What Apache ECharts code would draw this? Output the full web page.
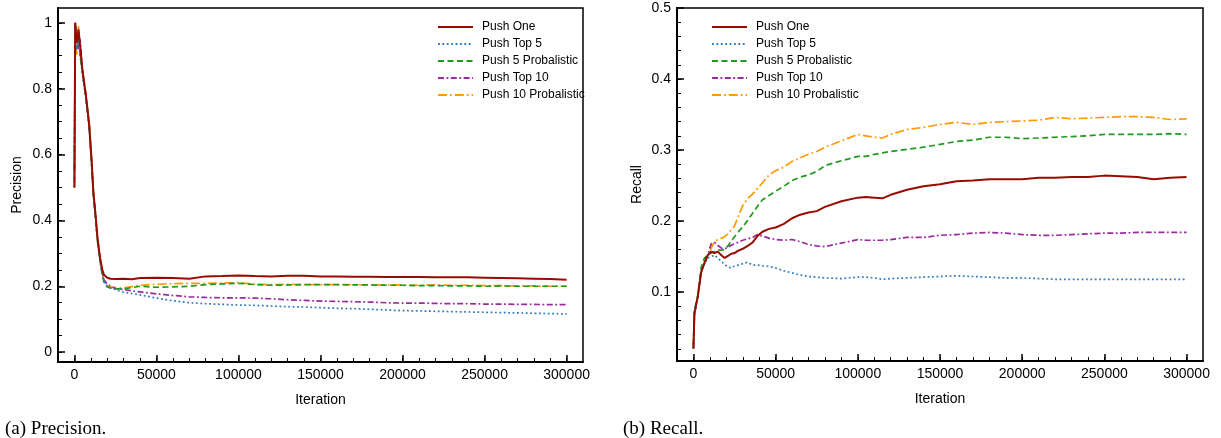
<!DOCTYPE html>
<html>
<head>
<meta charset="utf-8">
<script src="https://cdn.jsdelivr.net/npm/echarts@6/dist/echarts.min.js"></script>
<style>
html,body{margin:0;padding:0;background:#fff;}
#chart{width:1221px;height:438px;}
</style>
</head>
<body>
<div id="chart"></div>
<script>
// ---------- Data ----------
var seriesNames = ['Push One', 'Push Top 5', 'Push 5 Probalistic', 'Push Top 10', 'Push 10 Probalistic'];
var xTickLabels = [0, 50000, 100000, 150000, 200000, 250000, 300000];
var precTickLabels = [0, 0.2, 0.4, 0.6, 0.8, 1];
var recallTickLabels = [0.1, 0.2, 0.3, 0.4, 0.5];

// (a) Precision
var precIter = [0,500,1500,2500,3500,5000,7000,9000,10500,11500,13000,14000,15500,17000,18000,20000,22000,25000,30000,35000,40000,50000,60000,70000,80000,90000,100000,110000,120000,130000,140000,150000,160000,170000,180000,190000,200000,210000,220000,230000,240000,250000,260000,270000,280000,290000,300000];
var precPushOne = [0.5,1.0,0.94,0.98,0.93,0.85,0.78,0.69,0.58,0.49,0.41,0.35,0.29,0.25,0.235,0.226,0.223,0.222,0.223,0.221,0.225,0.226,0.225,0.223,0.230,0.231,0.233,0.231,0.230,0.232,0.232,0.230,0.230,0.229,0.229,0.228,0.228,0.228,0.227,0.227,0.227,0.226,0.225,0.224,0.223,0.222,0.220];
var precPushTop5 = [0.5,0.99,0.92,0.96,0.9,0.84,0.77,0.68,0.57,0.48,0.40,0.34,0.28,0.235,0.215,0.2,0.195,0.19,0.182,0.178,0.174,0.164,0.156,0.150,0.147,0.145,0.143,0.142,0.140,0.138,0.137,0.135,0.133,0.132,0.130,0.128,0.126,0.125,0.124,0.123,0.122,0.121,0.120,0.119,0.118,0.117,0.116];
var precPush5Prob = [0.55,1.0,0.92,0.97,0.9,0.85,0.77,0.69,0.57,0.48,0.40,0.34,0.28,0.235,0.213,0.198,0.195,0.193,0.192,0.196,0.200,0.197,0.198,0.200,0.205,0.207,0.209,0.205,0.203,0.204,0.205,0.205,0.205,0.204,0.204,0.203,0.203,0.202,0.202,0.201,0.201,0.200,0.201,0.200,0.200,0.200,0.200];
var precPushTop10 = [0.52,1.0,0.95,0.92,0.95,0.85,0.78,0.69,0.58,0.49,0.41,0.35,0.29,0.24,0.22,0.207,0.2,0.193,0.19,0.186,0.183,0.177,0.172,0.168,0.166,0.165,0.165,0.164,0.162,0.159,0.157,0.155,0.154,0.153,0.152,0.150,0.149,0.149,0.148,0.147,0.147,0.146,0.146,0.145,0.145,0.144,0.144];
var precPush10Prob = [0.5,0.97,0.9,0.99,0.91,0.86,0.78,0.70,0.58,0.49,0.41,0.35,0.29,0.24,0.215,0.2,0.198,0.196,0.195,0.199,0.203,0.206,0.208,0.209,0.209,0.210,0.211,0.206,0.205,0.206,0.205,0.205,0.205,0.205,0.204,0.204,0.204,0.203,0.204,0.203,0.203,0.202,0.202,0.201,0.201,0.200,0.200];

// (b) Recall
var recIter = [0,600,2600,4700,6700,8700,10800,12800,14800,17000,19000,21000,23000,25000,27000,30000,33000,36000,39000,42000,46000,50000,55000,60000,65000,70000,75000,80000,90000,100000,105000,110000,115000,120000,130000,140000,150000,160000,170000,180000,190000,200000,210000,220000,230000,240000,250000,260000,270000,280000,290000,300000];
var recPushOne = [0.021,0.07,0.093,0.128,0.141,0.152,0.157,0.155,0.157,0.152,0.148,0.151,0.154,0.155,0.158,0.161,0.165,0.170,0.179,0.185,0.189,0.191,0.196,0.204,0.209,0.212,0.214,0.220,0.228,0.233,0.234,0.233,0.232,0.237,0.244,0.249,0.252,0.256,0.257,0.259,0.259,0.259,0.261,0.261,0.262,0.262,0.264,0.263,0.262,0.259,0.261,0.262];
var recPushTop5 = [0.021,0.072,0.095,0.13,0.14,0.148,0.150,0.152,0.148,0.143,0.139,0.135,0.134,0.137,0.138,0.140,0.142,0.138,0.138,0.137,0.136,0.134,0.130,0.127,0.124,0.122,0.121,0.120,0.119,0.121,0.121,0.120,0.118,0.119,0.120,0.121,0.122,0.123,0.122,0.121,0.120,0.120,0.119,0.118,0.118,0.118,0.118,0.118,0.118,0.118,0.118,0.118];
var recPush5Prob = [0.025,0.075,0.095,0.135,0.148,0.152,0.155,0.157,0.159,0.159,0.160,0.165,0.172,0.178,0.184,0.192,0.201,0.211,0.221,0.230,0.236,0.242,0.249,0.257,0.262,0.265,0.270,0.278,0.285,0.291,0.291,0.294,0.296,0.298,0.301,0.304,0.308,0.312,0.314,0.318,0.318,0.316,0.317,0.318,0.319,0.320,0.322,0.322,0.322,0.322,0.323,0.322];
var recPushTop10 = [0.02,0.068,0.093,0.128,0.14,0.152,0.168,0.170,0.166,0.162,0.161,0.163,0.166,0.168,0.170,0.173,0.175,0.177,0.181,0.179,0.176,0.174,0.173,0.174,0.171,0.167,0.165,0.164,0.169,0.174,0.173,0.173,0.173,0.174,0.177,0.177,0.180,0.181,0.183,0.184,0.183,0.181,0.180,0.180,0.181,0.182,0.183,0.183,0.184,0.184,0.184,0.184];
var recPush10Prob = [0.02,0.07,0.093,0.13,0.142,0.15,0.162,0.171,0.174,0.176,0.178,0.182,0.188,0.193,0.205,0.222,0.232,0.238,0.246,0.254,0.265,0.271,0.276,0.284,0.289,0.294,0.298,0.304,0.313,0.322,0.320,0.318,0.317,0.322,0.329,0.332,0.336,0.339,0.336,0.339,0.340,0.341,0.342,0.346,0.344,0.345,0.346,0.347,0.347,0.346,0.343,0.344];

// ---------- Styles ----------
var styles = [
  {color: '#960c00', width: 2, type: 'solid'},
  {color: '#2f7bbf', width: 1.7, type: [1.8, 2.6]},
  {color: '#1f9a1f', width: 1.7, type: [6, 3.5]},
  {color: '#9a2a9e', width: 1.7, type: [6, 2.5, 1.8, 2.5]},
  {color: '#ff9a00', width: 1.7, type: [9, 3, 1.8, 3]}
];
var FONT = 'Liberation Sans';

function zip(xs, ys) { return xs.map(function (x, i) { return [x, ys[i]]; }); }
function range(a, b, s) { var r = []; for (var v = a; v <= b + 1e-9; v += s) r.push(Math.round(v * 1000) / 1000); return r; }
function plain(v) { return String(v); }

var xMinor = range(0, 300000, 10000);
var precMinor = range(0, 1, 0.05);
var recMinor = range(0.02, 0.48, 0.02);

function mainX(grid) {
  return {
    type: 'value', gridIndex: grid, min: -10000, max: 310000, position: 'bottom',
    name: 'Iteration', nameLocation: 'middle', nameGap: 31,
    nameTextStyle: {fontFamily: FONT, fontSize: 14, color: '#000'},
    axisLine: {show: true, onZero: false, lineStyle: {color: '#000', width: 2}},
    axisTick: {show: true, inside: true, length: 7, customValues: xTickLabels, lineStyle: {color: '#000', width: 1.5}},
    axisLabel: {customValues: xTickLabels, formatter: plain, fontFamily: FONT, fontSize: 14, color: '#000', margin: 6},
    splitLine: {show: false}
  };
}
function minorX(grid) {
  return {
    type: 'value', gridIndex: grid, min: -10000, max: 310000, position: 'bottom',
    axisLine: {show: false, onZero: false},
    axisTick: {show: true, inside: true, length: 4, customValues: xMinor, lineStyle: {color: '#000', width: 1}},
    axisLabel: {show: false}, splitLine: {show: false}
  };
}
function mainY(grid, min, max, ticks, name, gap) {
  return {
    type: 'value', gridIndex: grid, min: min, max: max, position: 'left',
    name: name, nameLocation: 'middle', nameGap: gap, nameRotate: 90,
    nameTextStyle: {fontFamily: FONT, fontSize: 14, color: '#000'},
    axisLine: {show: true, onZero: false, lineStyle: {color: '#000', width: 2}},
    axisTick: {show: true, inside: true, length: 7, customValues: ticks, lineStyle: {color: '#000', width: 1.5}},
    axisLabel: {customValues: ticks, formatter: plain, fontFamily: FONT, fontSize: 14, color: '#000', margin: 6},
    splitLine: {show: false}
  };
}
function minorY(grid, min, max, ticks) {
  return {
    type: 'value', gridIndex: grid, min: min, max: max, position: 'left',
    axisLine: {show: false, onZero: false},
    axisTick: {show: true, inside: true, length: 4, customValues: ticks, lineStyle: {color: '#000', width: 1}},
    axisLabel: {show: false}, splitLine: {show: false}
  };
}

var precData = [precPushOne, precPushTop5, precPush5Prob, precPushTop10, precPush10Prob];
var recData = [recPushOne, recPushTop5, recPush5Prob, recPushTop10, recPush10Prob];

var series = [];
seriesNames.forEach(function (n, i) {
  var st = styles[i];
  series.push({
    name: n, type: 'line', xAxisIndex: 0, yAxisIndex: 0, showSymbol: false, symbol: 'none',
    data: zip(precIter, precData[i]),
    lineStyle: {color: st.color, width: st.width, type: st.type}, itemStyle: {color: st.color}, z: 10 - i
  });
});
seriesNames.forEach(function (n, i) {
  var st = styles[i];
  series.push({
    name: n, type: 'line', xAxisIndex: 2, yAxisIndex: 2, showSymbol: false, symbol: 'none',
    data: zip(recIter, recData[i]),
    lineStyle: {color: st.color, width: st.width, type: st.type}, itemStyle: {color: st.color}, z: 10 - i
  });
});

function legend(left) {
  return {
    orient: 'vertical', left: left, top: 21, padding: 0, itemWidth: 35, itemHeight: 10, itemGap: 5,
    selectedMode: false, data: seriesNames,
    itemStyle: {opacity: 0},
    textStyle: {fontFamily: FONT, fontSize: 12, color: '#000', padding: [0, 0, 0, 4]}
  };
}

var chart = echarts.init(document.getElementById('chart'), null, {renderer: 'canvas'});
chart.setOption({
  animation: false,
  backgroundColor: '#fff',
  grid: [
    {left: 58, top: 8, width: 525, height: 354, show: true, borderColor: '#000', borderWidth: 1.5, backgroundColor: 'transparent'},
    {left: 677, top: 8, width: 526, height: 353, show: true, borderColor: '#000', borderWidth: 1.5, backgroundColor: 'transparent'}
  ],
  xAxis: [mainX(0), minorX(0), mainX(1), minorX(1)],
  yAxis: [
    mainY(0, -0.03, 1.045, precTickLabels, 'Precision', 34),
    minorY(0, -0.03, 1.045, precMinor),
    mainY(1, 0.003, 0.5, recallTickLabels, 'Recall', 33),
    minorY(1, 0.003, 0.5, recMinor)
  ],
  legend: [legend(437), legend(711)],
  series: series,
  graphic: [
    {type: 'text', left: 5, top: 420, style: {text: '(a) Precision.', font: '19px "Liberation Serif"', fill: '#000'}},
    {type: 'text', left: 623, top: 420, style: {text: '(b) Recall.', font: '19px "Liberation Serif"', fill: '#000'}}
  ]
});
</script>
</body>
</html>
